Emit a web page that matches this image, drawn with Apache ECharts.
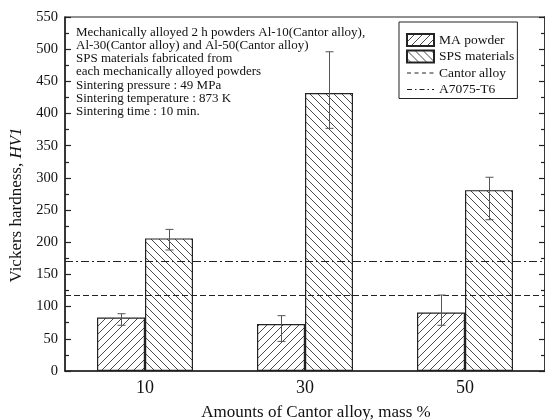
<!DOCTYPE html>
<html><head><meta charset="utf-8">
<script src="https://cdn.jsdelivr.net/npm/echarts@6/dist/echarts.min.js"></script>
<style>html,body{margin:0;padding:0;background:#fff}#c{width:545px;height:420px}</style>
</head><body><div id="c"></div>
<script>
var categories = ['10', '30', '50'];
var maPowder = [83, 73, 91];
var maLow = [71, 46, 71];
var maHigh = [89, 86, 118];
var spsMaterials = [206, 432, 281];
var spsLow = [188, 377, 235];
var spsHigh = [220, 496, 301];
var cantorAlloy = 118;
var a7075T6 = 171;
var yTicks = {min: 0, max: 550, interval: 50};
var notes = [
  'Mechanically alloyed 2 h powders Al-10(Cantor alloy),',
  'Al-30(Cantor alloy) and Al-50(Cantor alloy)',
  'SPS materials fabricated from',
  'each mechanically alloyed powders',
  'Sintering pressure : 49 MPa',
  'Sintering temperature : 873 K',
  'Sintering time : 10 min.'
];
var noteY = [33, 46, 59, 71.5, 86, 99, 112];

var FONT = '"Liberation Serif", "DejaVu Serif", serif';

function hatch(dir) {
  var s = 8;
  var c = document.createElement('canvas');
  c.width = s; c.height = s;
  var g = c.getContext('2d');
  g.fillStyle = '#fff'; g.fillRect(0, 0, s, s);
  g.strokeStyle = '#4a4a4a'; g.lineWidth = 1;
  g.beginPath();
  if (dir > 0) {
    g.moveTo(-1, s + 1); g.lineTo(s + 1, -1);
    g.moveTo(-1, 1); g.lineTo(1, -1);
    g.moveTo(s - 1, s + 1); g.lineTo(s + 1, s - 1);
  } else {
    g.moveTo(-1, -1); g.lineTo(s + 1, s + 1);
    g.moveTo(-1, s - 1); g.lineTo(1, s + 1);
    g.moveTo(s - 1, -1); g.lineTo(s + 1, 1);
  }
  g.stroke();
  return {image: c, repeat: 'repeat'};
}

// legend icon paths (27 x 12 box, tiny corner marks fix the bounding box)
function dashIcon(segs) {
  var p = 'path://M0,0h0.01v0.01h-0.01zM26.99,11.99h0.01v0.01h-0.01z';
  segs.forEach(function (s) { p += 'M' + s[0] + ',5.4h' + (s[1] - s[0]) + 'v1.2h' + (s[0] - s[1]) + 'z'; });
  return p;
}
var cantorIcon = dashIcon([[0, 4], [7.5, 11.5], [15, 19], [22.5, 26.5]]);
var a7075Icon = dashIcon([[0, 5], [8, 9.5], [12.5, 17.5], [20.5, 22], [25, 27]]);

var chart = echarts.init(document.getElementById('c'), null, {renderer: 'canvas'});

function errRender(off, lows, highs) {
  return function (params, api) {
    var i = api.value(0);
    var bw = api.size([1, 0])[0] * 0.3;
    var pTop = api.coord([i, highs[i]]);
    var pBot = api.coord([i, lows[i]]);
    var x = Math.round(pTop[0] + off * bw / 2) + 0.5;
    var cap = 4;
    var st = {stroke: '#555', lineWidth: 1};
    return {type: 'group', children: [
      {type: 'line', shape: {x1: x, y1: pTop[1], x2: x, y2: pBot[1]}, style: st},
      {type: 'line', shape: {x1: x - cap, y1: pTop[1], x2: x + cap, y2: pTop[1]}, style: st},
      {type: 'line', shape: {x1: x - cap, y1: pBot[1], x2: x + cap, y2: pBot[1]}, style: st}
    ]};
  };
}

var graphics = notes.map(function (t, k) {
  return {type: 'text', left: 76, top: noteY[k] - 6.5, z: 100,
    style: {text: t, font: '13px ' + FONT, fill: '#111'}};
});
graphics.push({type: 'text', x: 17, y: 205, rotation: Math.PI / 2, z: 100,
  style: {text: 'Vickers hardness, {i|HV1}', font: '17px ' + FONT, fill: '#111',
    align: 'center', verticalAlign: 'middle',
    rich: {i: {fontStyle: 'italic', fontSize: 17, fontFamily: FONT}}}});
graphics.push({type: 'text', x: 316, y: 413, z: 100,
  style: {text: 'Amounts of Cantor alloy, mass %', font: '17px ' + FONT, fill: '#111',
    align: 'center', verticalAlign: 'middle'}});

chart.setOption({
  animation: false,
  backgroundColor: '#fff',
  grid: {left: 65, top: 17, width: 480, height: 354, show: true, borderColor: '#222', borderWidth: 1.2},
  legend: {
    orient: 'vertical', left: 399, top: 22,
    padding: [11, 3, 2, 7], itemGap: 2.5, itemWidth: 27, itemHeight: 12,
    borderColor: '#222', borderWidth: 1,
    textStyle: {fontFamily: FONT, fontSize: 13.5, color: '#111'},
    data: [
      {name: 'MA powder', icon: 'rect'},
      {name: 'SPS materials', icon: 'rect'},
      {name: 'Cantor alloy', icon: cantorIcon, itemStyle: {color: '#222', borderWidth: 0}},
      {name: 'A7075-T6', icon: a7075Icon, itemStyle: {color: '#222', borderWidth: 0}}
    ]
  },
  xAxis: {
    type: 'category', data: categories,
    axisLine: {lineStyle: {color: '#222', width: 1.5}},
    axisTick: {show: false},
    axisLabel: {fontFamily: FONT, fontSize: 18, color: '#111', margin: 8}
  },
  yAxis: [{
    type: 'value', min: yTicks.min, max: yTicks.max, interval: yTicks.interval,
    axisLine: {show: true, lineStyle: {color: '#222', width: 1.5}},
    axisTick: {show: true, inside: true, length: 6, lineStyle: {color: '#222', width: 1.2}},
    minorTick: {show: true, splitNumber: 2, length: 4, lineStyle: {color: '#222', width: 1.2}},
    splitLine: {show: false},
    axisLabel: {fontFamily: FONT, fontSize: 14.5, color: '#111', margin: 7}
  }, {
    type: 'value', position: 'right', min: yTicks.min, max: yTicks.max, interval: yTicks.interval,
    axisLine: {show: true, lineStyle: {color: '#222', width: 1.5}},
    axisTick: {show: true, inside: true, length: 6, lineStyle: {color: '#222', width: 1.2}},
    minorTick: {show: true, splitNumber: 2, length: 4, lineStyle: {color: '#222', width: 1.2}},
    splitLine: {show: false},
    axisLabel: {show: false}
  }],
  series: [
    {name: 'MA powder', type: 'bar', data: maPowder, barGap: '0%', barCategoryGap: '40%',
      itemStyle: {color: hatch(1), borderColor: '#222', borderWidth: 1.2}},
    {name: 'SPS materials', type: 'bar', data: spsMaterials,
      itemStyle: {color: hatch(-1), borderColor: '#222', borderWidth: 1.2}},
    {name: 'Cantor alloy', type: 'line', data: [], symbol: 'none',
      lineStyle: {color: '#222', width: 1.2, type: [5, 3]}, itemStyle: {color: '#222'},
      markLine: {silent: true, symbol: 'none', label: {show: false},
        lineStyle: {color: '#222', width: 1.2, type: [6, 3]}, data: [{yAxis: cantorAlloy}]}},
    {name: 'A7075-T6', type: 'line', data: [], symbol: 'none',
      lineStyle: {color: '#222', width: 1.2, type: [5, 2, 2, 2]}, itemStyle: {color: '#222'},
      markLine: {silent: true, symbol: 'none', label: {show: false},
        lineStyle: {color: '#222', width: 1.2, type: [8, 3, 2, 3]}, data: [{yAxis: a7075T6}]}},
    {type: 'custom', data: categories.map(function (c, i) { return [i]; }), z: 10,
      renderItem: errRender(-1, maLow, maHigh)},
    {type: 'custom', data: categories.map(function (c, i) { return [i]; }), z: 10,
      renderItem: errRender(1, spsLow, spsHigh)}
  ],
  graphic: graphics
});
</script></body></html>
